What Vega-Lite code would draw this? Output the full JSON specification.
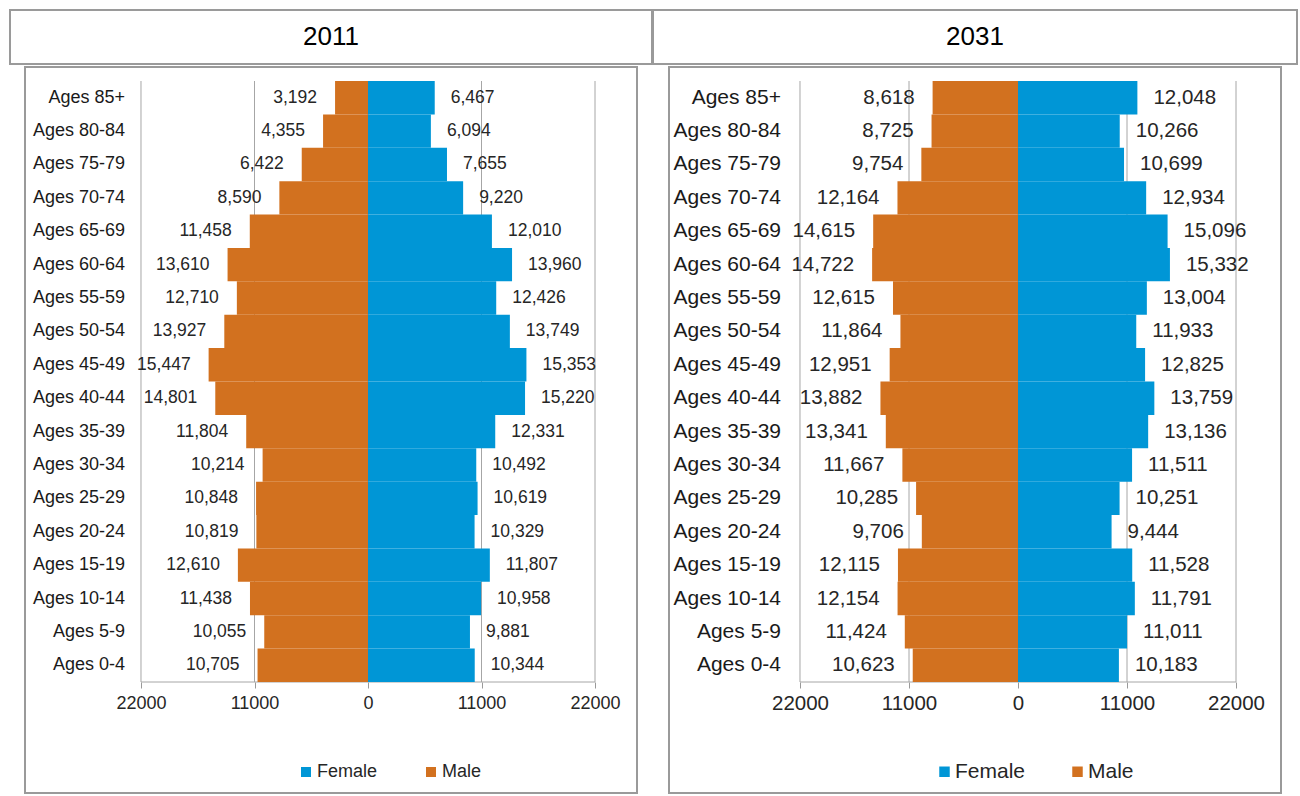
{
  "$schema": "https://vega.github.io/schema/vega-lite/v6.json",
  "padding": {"left": 9, "top": 9, "right": 0, "bottom": 0},
  "background": "white",
  "config": {"view": {"stroke": "#9a9a9a", "strokeWidth": 2}, "font": "Liberation Sans"},
  "datasets": {
    "grid": [{"v": -22000}, {"v": -11000}, {"v": 0}, {"v": 11000}, {"v": 22000}],
    "d2011": [
      {"age": "Ages 85+", "sex": "Male", "value": 3192}, {"age": "Ages 85+", "sex": "Female", "value": 6467},
      {"age": "Ages 80-84", "sex": "Male", "value": 4355}, {"age": "Ages 80-84", "sex": "Female", "value": 6094},
      {"age": "Ages 75-79", "sex": "Male", "value": 6422}, {"age": "Ages 75-79", "sex": "Female", "value": 7655},
      {"age": "Ages 70-74", "sex": "Male", "value": 8590}, {"age": "Ages 70-74", "sex": "Female", "value": 9220},
      {"age": "Ages 65-69", "sex": "Male", "value": 11458}, {"age": "Ages 65-69", "sex": "Female", "value": 12010},
      {"age": "Ages 60-64", "sex": "Male", "value": 13610}, {"age": "Ages 60-64", "sex": "Female", "value": 13960},
      {"age": "Ages 55-59", "sex": "Male", "value": 12710}, {"age": "Ages 55-59", "sex": "Female", "value": 12426},
      {"age": "Ages 50-54", "sex": "Male", "value": 13927}, {"age": "Ages 50-54", "sex": "Female", "value": 13749},
      {"age": "Ages 45-49", "sex": "Male", "value": 15447}, {"age": "Ages 45-49", "sex": "Female", "value": 15353},
      {"age": "Ages 40-44", "sex": "Male", "value": 14801}, {"age": "Ages 40-44", "sex": "Female", "value": 15220},
      {"age": "Ages 35-39", "sex": "Male", "value": 11804}, {"age": "Ages 35-39", "sex": "Female", "value": 12331},
      {"age": "Ages 30-34", "sex": "Male", "value": 10214}, {"age": "Ages 30-34", "sex": "Female", "value": 10492},
      {"age": "Ages 25-29", "sex": "Male", "value": 10848}, {"age": "Ages 25-29", "sex": "Female", "value": 10619},
      {"age": "Ages 20-24", "sex": "Male", "value": 10819}, {"age": "Ages 20-24", "sex": "Female", "value": 10329},
      {"age": "Ages 15-19", "sex": "Male", "value": 12610}, {"age": "Ages 15-19", "sex": "Female", "value": 11807},
      {"age": "Ages 10-14", "sex": "Male", "value": 11438}, {"age": "Ages 10-14", "sex": "Female", "value": 10958},
      {"age": "Ages 5-9", "sex": "Male", "value": 10055}, {"age": "Ages 5-9", "sex": "Female", "value": 9881},
      {"age": "Ages 0-4", "sex": "Male", "value": 10705}, {"age": "Ages 0-4", "sex": "Female", "value": 10344}
    ],
    "d2031": [
      {"age": "Ages 85+", "sex": "Male", "value": 8618}, {"age": "Ages 85+", "sex": "Female", "value": 12048},
      {"age": "Ages 80-84", "sex": "Male", "value": 8725}, {"age": "Ages 80-84", "sex": "Female", "value": 10266},
      {"age": "Ages 75-79", "sex": "Male", "value": 9754}, {"age": "Ages 75-79", "sex": "Female", "value": 10699},
      {"age": "Ages 70-74", "sex": "Male", "value": 12164}, {"age": "Ages 70-74", "sex": "Female", "value": 12934},
      {"age": "Ages 65-69", "sex": "Male", "value": 14615}, {"age": "Ages 65-69", "sex": "Female", "value": 15096},
      {"age": "Ages 60-64", "sex": "Male", "value": 14722}, {"age": "Ages 60-64", "sex": "Female", "value": 15332},
      {"age": "Ages 55-59", "sex": "Male", "value": 12615}, {"age": "Ages 55-59", "sex": "Female", "value": 13004},
      {"age": "Ages 50-54", "sex": "Male", "value": 11864}, {"age": "Ages 50-54", "sex": "Female", "value": 11933},
      {"age": "Ages 45-49", "sex": "Male", "value": 12951}, {"age": "Ages 45-49", "sex": "Female", "value": 12825},
      {"age": "Ages 40-44", "sex": "Male", "value": 13882}, {"age": "Ages 40-44", "sex": "Female", "value": 13759},
      {"age": "Ages 35-39", "sex": "Male", "value": 13341}, {"age": "Ages 35-39", "sex": "Female", "value": 13136},
      {"age": "Ages 30-34", "sex": "Male", "value": 11667}, {"age": "Ages 30-34", "sex": "Female", "value": 11511},
      {"age": "Ages 25-29", "sex": "Male", "value": 10285}, {"age": "Ages 25-29", "sex": "Female", "value": 10251},
      {"age": "Ages 20-24", "sex": "Male", "value": 9706}, {"age": "Ages 20-24", "sex": "Female", "value": 9444},
      {"age": "Ages 15-19", "sex": "Male", "value": 12115}, {"age": "Ages 15-19", "sex": "Female", "value": 11528},
      {"age": "Ages 10-14", "sex": "Male", "value": 12154}, {"age": "Ages 10-14", "sex": "Female", "value": 11791},
      {"age": "Ages 5-9", "sex": "Male", "value": 11424}, {"age": "Ages 5-9", "sex": "Female", "value": 11011},
      {"age": "Ages 0-4", "sex": "Male", "value": 10623}, {"age": "Ages 0-4", "sex": "Female", "value": 10183}
    ]
  },
  "spacing": -2,
  "resolve": {"scale": {"color": "independent", "x": "independent", "y": "independent"}, "legend": {"color": "independent"}},
  "hconcat": [
    {
      "vconcat": [
        {
          "width": 642, "height": 54,
          "view": {"stroke": "#9a9a9a", "strokeWidth": 2},
          "data": {"values": [{"t": "2011"}]},
          "mark": {"type": "text", "fontSize": 26, "color": "#000000", "align": "center", "baseline": "middle"},
          "encoding": {"text": {"field": "t", "type": "nominal"}}
        },
        {
          "width": 612, "height": 726,
          "data": {"name": "d2011"},
          "layer": [
            {
              "data": {"name": "grid"},
              "mark": {"type": "rule", "color": "#a6a6a6", "strokeWidth": 1},
              "encoding": {
                "x": {"field": "v", "type": "quantitative",
                      "scale": {"domain": [-33242, 26070], "nice": false, "zero": false},
                      "axis": {"values": [-22000, -11000, 0, 11000, 22000], "labelExpr": "format(abs(datum.value), 'd')", "grid": false, "domain": false, "ticks": true, "tickSize": 6, "tickColor": "#999999", "tickWidth": 1, "offset": -111, "labelFontSize": 18, "labelColor": "#262626", "labelPadding": 6, "labelFlush": false, "labelOverlap": false, "title": null}},
                "y": {"datum": "Ages 85+", "type": "nominal", "bandPosition": 0, "axis": null,
                      "scale": {"domain": ["Ages 85+","Ages 80-84","Ages 75-79","Ages 70-74","Ages 65-69","Ages 60-64","Ages 55-59","Ages 50-54","Ages 45-49","Ages 40-44","Ages 35-39","Ages 30-34","Ages 25-29","Ages 20-24","Ages 15-19","Ages 10-14","Ages 5-9","Ages 0-4"], "range": [14, 615], "paddingInner": 0, "paddingOuter": 0}},
                "y2": {"datum": "Ages 0-4", "bandPosition": 1}
              }
            },
            {
              "data": {"values": [{}]},
              "mark": {"type": "rule", "color": "#a6a6a6", "strokeWidth": 1},
              "encoding": {
                "x": {"datum": -22000, "type": "quantitative", "scale": {"domain": [-33242, 26070], "nice": false, "zero": false}, "axis": null},
                "x2": {"datum": 22000},
                "y": {"datum": "Ages 0-4", "type": "nominal", "bandPosition": 1, "axis": null}
              }
            },
            {
              "transform": [{"filter": "datum.sex == 'Female'"}],
              "mark": {"type": "text", "align": "right", "baseline": "middle", "dx": -16, "fontSize": 18, "color": "#1a1a1a"},
              "encoding": {
                "x": {"datum": -22000, "type": "quantitative", "scale": {"domain": [-33242, 26070], "nice": false, "zero": false}, "axis": null},
                "y": {"field": "age", "type": "nominal", "sort": null, "axis": null},
                "text": {"field": "age", "type": "nominal"}
              }
            },
            {
              "transform": [{"filter": "datum.sex == 'Female'"}],
              "mark": {"type": "text", "align": "left", "baseline": "middle", "dx": 16, "fontSize": 17.5, "color": "#262626"},
              "encoding": {
                "x": {"field": "value", "type": "quantitative", "scale": {"domain": [-33242, 26070], "nice": false, "zero": false}, "axis": null},
                "y": {"field": "age", "type": "nominal", "sort": null, "axis": null},
                "text": {"field": "value", "type": "quantitative", "format": ","}
              }
            },
            {
              "transform": [{"filter": "datum.sex == 'Female'"}],
              "mark": {"type": "bar"},
              "encoding": {
                "x": {"field": "value", "type": "quantitative", "scale": {"domain": [-33242, 26070], "nice": false, "zero": false}, "axis": null},
                "x2": {"datum": 0},
                "y": {"field": "age", "type": "nominal", "sort": null, "axis": null},
                "color": {"field": "sex", "type": "nominal",
                          "scale": {"domain": ["Female", "Male"], "range": ["#0096D6", "#D2711F"]},
                          "legend": {"orient": "none", "legendX": 272, "legendY": 696, "direction": "horizontal", "title": null, "symbolType": "square", "symbolSize": 100, "symbolStrokeWidth": 0, "labelFontSize": 18, "labelColor": "#262626", "columnPadding": 44, "labelOffset": 2, "padding": 0}}
              }
            },
            {
              "transform": [{"filter": "datum.sex == 'Male'"}],
              "mark": {"type": "bar"},
              "encoding": {
                "x": {"field": "value", "type": "quantitative", "scale": {"domain": [-26070, 33242], "nice": false, "zero": false, "reverse": true}, "axis": null},
                "x2": {"datum": 0},
                "y": {"field": "age", "type": "nominal", "sort": null, "axis": null},
                "color": {"field": "sex", "type": "nominal",
                          "scale": {"domain": ["Female", "Male"], "range": ["#0096D6", "#D2711F"]},
                          "legend": {"orient": "none", "legendX": 272, "legendY": 696, "direction": "horizontal", "title": null, "symbolType": "square", "symbolSize": 100, "symbolStrokeWidth": 0, "labelFontSize": 18, "labelColor": "#262626", "columnPadding": 44, "labelOffset": 2, "padding": 0}}
              }
            },
            {
              "transform": [{"filter": "datum.sex == 'Male'"}],
              "mark": {"type": "text", "align": "right", "baseline": "middle", "dx": -18, "fontSize": 17.5, "color": "#262626"},
              "encoding": {
                "x": {"field": "value", "type": "quantitative", "scale": {"domain": [-26070, 33242], "nice": false, "zero": false, "reverse": true}, "axis": null},
                "y": {"field": "age", "type": "nominal", "sort": null, "axis": null},
                "text": {"field": "value", "type": "quantitative", "format": ","}
              }
            }
          ],
          "resolve": {"scale": {"x": "independent"}, "axis": {"x": "independent"}}
        }
      ],
      "spacing": 1,
      "center": true,
      "resolve": {"scale": {"color": "independent", "x": "independent", "y": "independent"}, "legend": {"color": "independent"}}
    },
    {
      "vconcat": [
        {
          "width": 644, "height": 54,
          "view": {"stroke": "#9a9a9a", "strokeWidth": 2},
          "data": {"values": [{"t": "2031"}]},
          "mark": {"type": "text", "fontSize": 26, "color": "#000000", "align": "center", "baseline": "middle"},
          "encoding": {"text": {"field": "t", "type": "nominal"}}
        },
        {
          "width": 612, "height": 726,
          "data": {"name": "d2031"},
          "layer": [
            {
              "data": {"name": "grid"},
              "mark": {"type": "rule", "color": "#a6a6a6", "strokeWidth": 1},
              "encoding": {
                "x": {"field": "v", "type": "quantitative",
                      "scale": {"domain": [-35220, 26541], "nice": false, "zero": false},
                      "axis": {"values": [-22000, -11000, 0, 11000, 22000], "labelExpr": "format(abs(datum.value), 'd')", "grid": false, "domain": false, "ticks": true, "tickSize": 6, "tickColor": "#999999", "tickWidth": 1, "offset": -111, "labelFontSize": 20.5, "labelColor": "#262626", "labelPadding": 5, "labelFlush": false, "labelOverlap": false, "title": null}},
                "y": {"datum": "Ages 85+", "type": "nominal", "bandPosition": 0, "axis": null,
                      "scale": {"domain": ["Ages 85+","Ages 80-84","Ages 75-79","Ages 70-74","Ages 65-69","Ages 60-64","Ages 55-59","Ages 50-54","Ages 45-49","Ages 40-44","Ages 35-39","Ages 30-34","Ages 25-29","Ages 20-24","Ages 15-19","Ages 10-14","Ages 5-9","Ages 0-4"], "range": [14, 615], "paddingInner": 0, "paddingOuter": 0}},
                "y2": {"datum": "Ages 0-4", "bandPosition": 1}
              }
            },
            {
              "data": {"values": [{}]},
              "mark": {"type": "rule", "color": "#a6a6a6", "strokeWidth": 1},
              "encoding": {
                "x": {"datum": -22000, "type": "quantitative", "scale": {"domain": [-35220, 26541], "nice": false, "zero": false}, "axis": null},
                "x2": {"datum": 22000},
                "y": {"datum": "Ages 0-4", "type": "nominal", "bandPosition": 1, "axis": null}
              }
            },
            {
              "transform": [{"filter": "datum.sex == 'Female'"}],
              "mark": {"type": "text", "align": "right", "baseline": "middle", "dx": -19, "fontSize": 21, "color": "#1a1a1a"},
              "encoding": {
                "x": {"datum": -22000, "type": "quantitative", "scale": {"domain": [-35220, 26541], "nice": false, "zero": false}, "axis": null},
                "y": {"field": "age", "type": "nominal", "sort": null, "axis": null},
                "text": {"field": "age", "type": "nominal"}
              }
            },
            {
              "transform": [{"filter": "datum.sex == 'Female'"}],
              "mark": {"type": "text", "align": "left", "baseline": "middle", "dx": 16, "fontSize": 20.5, "color": "#262626"},
              "encoding": {
                "x": {"field": "value", "type": "quantitative", "scale": {"domain": [-35220, 26541], "nice": false, "zero": false}, "axis": null},
                "y": {"field": "age", "type": "nominal", "sort": null, "axis": null},
                "text": {"field": "value", "type": "quantitative", "format": ","}
              }
            },
            {
              "transform": [{"filter": "datum.sex == 'Female'"}],
              "mark": {"type": "bar"},
              "encoding": {
                "x": {"field": "value", "type": "quantitative", "scale": {"domain": [-35220, 26541], "nice": false, "zero": false}, "axis": null},
                "x2": {"datum": 0},
                "y": {"field": "age", "type": "nominal", "sort": null, "axis": null},
                "color": {"field": "sex", "type": "nominal",
                          "scale": {"domain": ["Female", "Male"], "range": ["#0096D6", "#D2711F"]},
                          "legend": {"orient": "none", "legendX": 265, "legendY": 694, "direction": "horizontal", "title": null, "symbolType": "square", "symbolSize": 110, "symbolStrokeWidth": 0, "labelFontSize": 21, "labelColor": "#262626", "columnPadding": 41, "labelOffset": 0, "padding": 0}}
              }
            },
            {
              "transform": [{"filter": "datum.sex == 'Male'"}],
              "mark": {"type": "bar"},
              "encoding": {
                "x": {"field": "value", "type": "quantitative", "scale": {"domain": [-26541, 35220], "nice": false, "zero": false, "reverse": true}, "axis": null},
                "x2": {"datum": 0},
                "y": {"field": "age", "type": "nominal", "sort": null, "axis": null},
                "color": {"field": "sex", "type": "nominal",
                          "scale": {"domain": ["Female", "Male"], "range": ["#0096D6", "#D2711F"]},
                          "legend": {"orient": "none", "legendX": 265, "legendY": 694, "direction": "horizontal", "title": null, "symbolType": "square", "symbolSize": 110, "symbolStrokeWidth": 0, "labelFontSize": 21, "labelColor": "#262626", "columnPadding": 41, "labelOffset": 0, "padding": 0}}
              }
            },
            {
              "transform": [{"filter": "datum.sex == 'Male'"}],
              "mark": {"type": "text", "align": "right", "baseline": "middle", "dx": -18, "fontSize": 20.5, "color": "#262626"},
              "encoding": {
                "x": {"field": "value", "type": "quantitative", "scale": {"domain": [-26541, 35220], "nice": false, "zero": false, "reverse": true}, "axis": null},
                "y": {"field": "age", "type": "nominal", "sort": null, "axis": null},
                "text": {"field": "value", "type": "quantitative", "format": ","}
              }
            }
          ],
          "resolve": {"scale": {"x": "independent"}, "axis": {"x": "independent"}}
        }
      ],
      "spacing": 1,
      "center": true,
      "resolve": {"scale": {"color": "independent", "x": "independent", "y": "independent"}, "legend": {"color": "independent"}}
    }
  ]
}
